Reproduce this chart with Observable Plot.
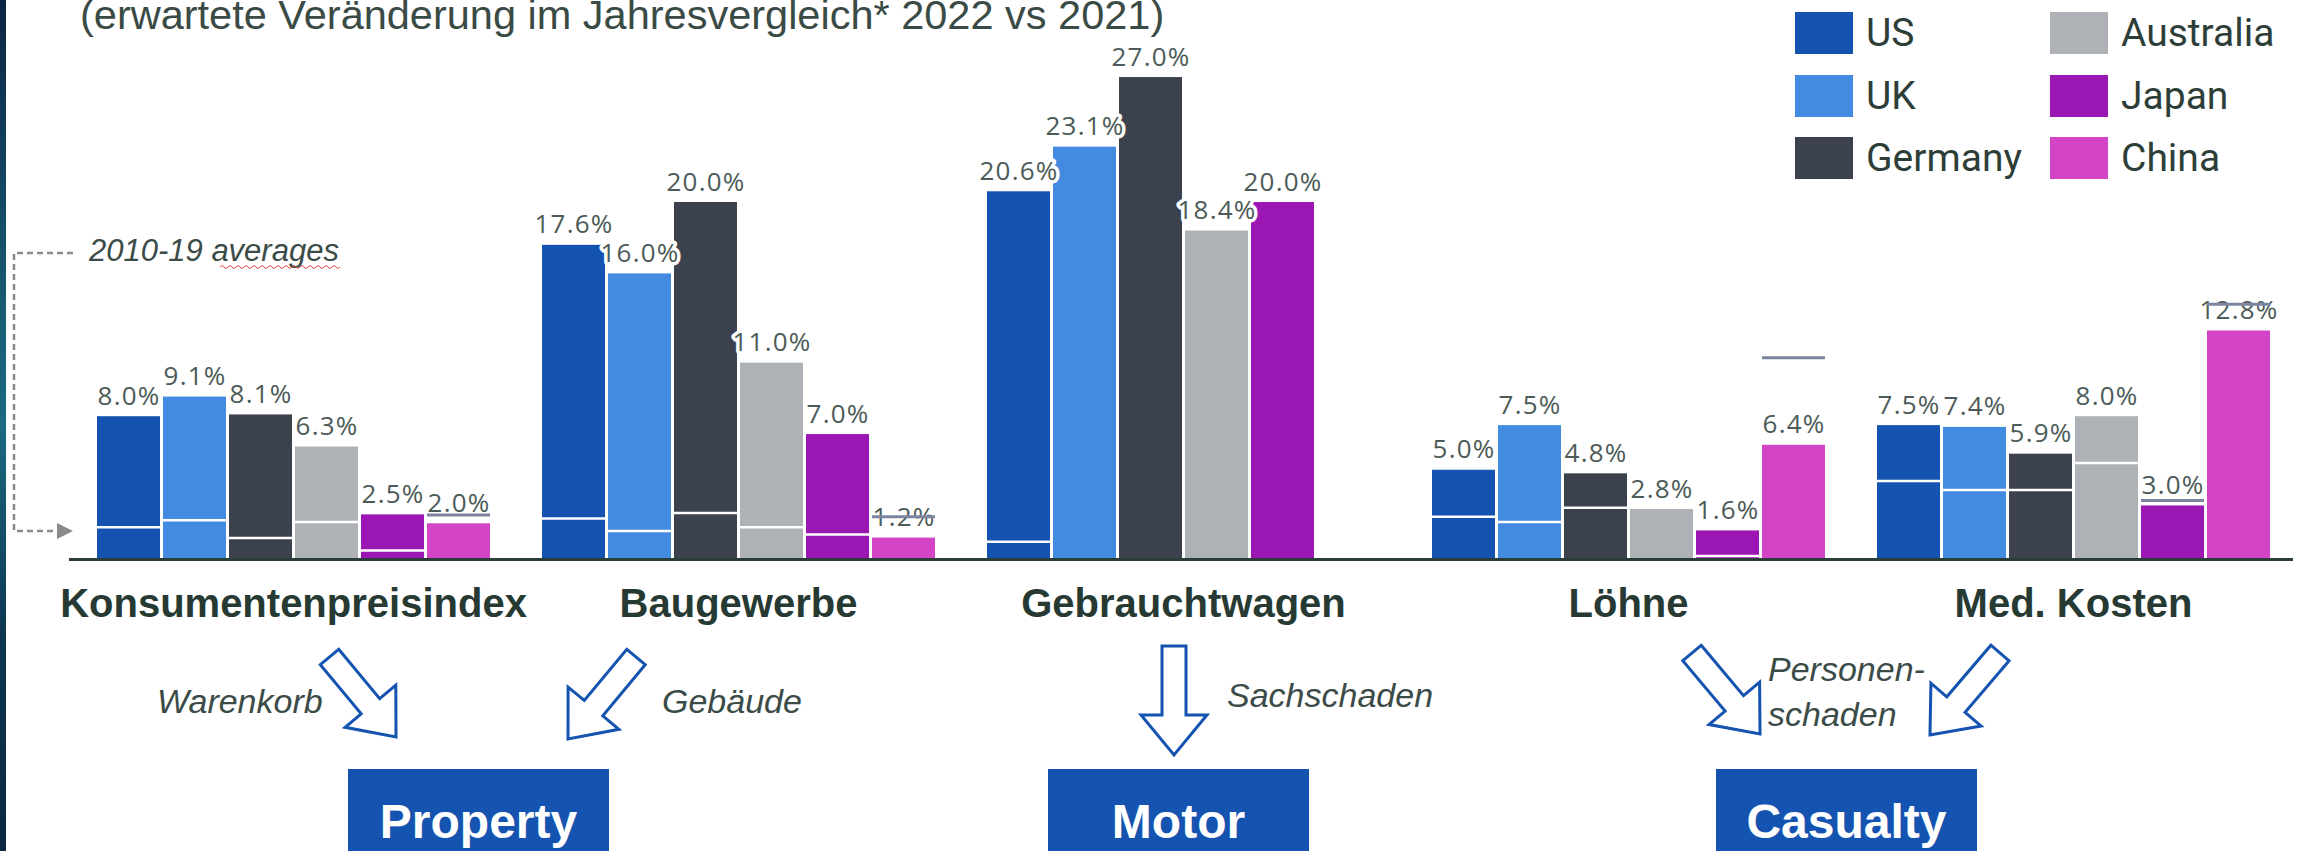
<!DOCTYPE html>
<html>
<head>
<meta charset="utf-8">
<script src="https://cdn.jsdelivr.net/npm/d3@7"></script>
<script src="https://cdn.jsdelivr.net/npm/@observablehq/plot@0.6"></script>
<style>
  html, body { margin: 0; padding: 0; background: #ffffff; }
  #page { position: relative; width: 2311px; height: 851px; overflow: hidden; background: #ffffff; }
  #strip { position: absolute; left: 0; top: 0; width: 6px; height: 851px;
           background: linear-gradient(#0c2443 0%, #175a72 35%, #1a6a80 50%, #0d3550 75%, #0a2843 100%); }
  #chart { position: absolute; left: 0; top: 0; }
  #overlay { position: absolute; left: 0; top: 0; pointer-events: none; }
  #legend { position: absolute; left: 1795px; top: 2px; display: grid;
            grid-template-columns: 255px auto; grid-template-rows: repeat(3, 62.5px);
            grid-auto-flow: column; font-family: Roboto, sans-serif; font-size: 39px; color: #2d3e38; }
  #legend .item { display: flex; align-items: center; }
  #legend .sw { width: 58px; height: 42px; margin-right: 13px; flex: none; }
  .box { position: absolute; top: 769px; height: 100px; width: 261px; background: #1553b1;
         color: #ffffff; font-family: "Liberation Sans", Arial, sans-serif; font-weight: bold;
         font-size: 48px; text-align: center; line-height: 1; }
  .box span { position: absolute; left: 0; right: 0; top: 29px; }
</style>
</head>
<body>
<div id="page">
  <div id="strip"></div>
</div>
<script>
// ---------- data ----------
const categories = ["Konsumentenpreisindex", "Baugewerbe", "Gebrauchtwagen", "Löhne", "Med. Kosten"];
const countries = ["US", "UK", "Germany", "Australia", "Japan", "China"];
const countryColors = ["#1553b1", "#438be0", "#3c414e", "#aeb2b6", "#9b17b4", "#d344c6"];

// expected change 2022 vs 2021 (%), per country, in category order
const usValues = [8.0, 17.6, 20.6, 5.0, 7.5];
const ukValues = [9.1, 16.0, 23.1, 7.5, 7.4];
const germanyValues = [8.1, 20.0, 27.0, 4.8, 5.9];
const australiaValues = [6.3, 11.0, 18.4, 2.8, 8.0];
const japanValues = [2.5, 7.0, 20.0, 1.6, 3.0];
const chinaValues = [2.0, 1.2, null, 6.4, 12.8];

// 2010-19 averages (%), per country, in category order
const usAverages = [1.8, 2.3, 1.0, 2.4, 4.4];
const ukAverages = [2.2, 1.6, null, 2.1, 3.9];
const germanyAverages = [1.2, 2.6, null, 2.9, 3.9];
const australiaAverages = [2.1, 1.8, null, null, 5.4];
const japanAverages = [0.5, 1.4, null, 0.2, 3.3];
const chinaAverages = [2.5, 2.4, null, 11.3, 14.3];

const titleText = "(erwartete Veränderung im Jahresvergleich* 2022 vs 2021)";
const averagesNote = "2010-19 averages";
const flowLabels = ["Warenkorb", "Gebäude", "Sachschaden", "Personen-", "schaden"];
const lineLabels = ["Property", "Motor", "Casualty"];

// ---------- table ----------
const valueSeries = [usValues, ukValues, germanyValues, australiaValues, japanValues, chinaValues];
const avgSeries = [usAverages, ukAverages, germanyAverages, australiaAverages, japanAverages, chinaAverages];
const rows = [];
countries.forEach((c, i) => {
  categories.forEach((cat, j) => {
    if (valueSeries[i][j] != null) rows.push({cat, country: c, value: valueSeries[i][j], avg: avgSeries[i][j]});
  });
});
const fmt = d => d.value.toFixed(1) + "%";

// ---------- chart ----------
const chart = Plot.plot({
  width: 2311,
  height: 640,
  marginTop: 23.5,
  marginBottom: 81,
  marginLeft: 94,
  marginRight: 39,
  fx: {domain: categories, paddingInner: 0.1111, paddingOuter: 0, axis: null, label: null},
  x: {domain: countries, paddingInner: 3 / 66, paddingOuter: 0.5 / 66, axis: null, label: null},
  y: {domain: [0, 30], axis: null, label: null},
  color: {domain: countries, range: countryColors},
  style: {background: "transparent", overflow: "visible"},
  marks: [
    Plot.barY(rows, {fx: "cat", x: "country", y: "value", fill: "country"}),
    Plot.tickY(rows.filter(d => d.avg != null && d.avg < d.value),
      {fx: "cat", x: "country", y: "avg", stroke: "#ffffff", strokeWidth: 2.5}),
    Plot.text(rows, {fx: "cat", x: "country", y: "value", text: fmt, lineAnchor: "bottom", dy: -12,
      fontSize: 26, fontFamily: "Open Sans", fill: "#4c5b57",
      stroke: "#ffffff", strokeWidth: 7, strokeLinejoin: "round", paintOrder: "stroke"}),
    Plot.tickY(rows.filter(d => d.avg != null && d.avg > d.value),
      {fx: "cat", x: "country", y: "avg", stroke: "#7c84a0", strokeWidth: 3}),
    Plot.text(categories, {fx: d => d, text: d => d, frameAnchor: "bottom", lineAnchor: "top", dy: 29,
      fontSize: 40, fontWeight: "bold", fontFamily: "Liberation Sans, Arial, sans-serif", fill: "#263a33"})
  ]
});
chart.id = "chart";
// slightly spaced digits for the value labels
const textGroups = chart.querySelectorAll('g[aria-label="text"]');
if (textGroups.length) textGroups[0].style.letterSpacing = "1.2px";
const page = document.getElementById("page");
page.appendChild(chart);

// ---------- legend ----------
const legend = document.createElement("div");
legend.id = "legend";
countries.forEach((c, i) => {
  const item = document.createElement("div");
  item.className = "item";
  const sw = document.createElement("div");
  sw.className = "sw";
  sw.style.background = countryColors[i];
  const lab = document.createElement("span");
  lab.textContent = c;
  item.appendChild(sw);
  item.appendChild(lab);
  legend.appendChild(item);
});
page.appendChild(legend);

// ---------- overlay: title, annotations, flow arrows ----------
const NS = "http://www.w3.org/2000/svg";
const ov = document.createElementNS(NS, "svg");
ov.id = "overlay";
ov.setAttribute("width", 2311);
ov.setAttribute("height", 851);
function el(tag, attrs, text) {
  const e = document.createElementNS(NS, tag);
  for (const k in attrs) e.setAttribute(k, attrs[k]);
  if (text != null) e.textContent = text;
  ov.appendChild(e);
  return e;
}
// title (cut off at the top, as in the source slide)
el("text", {x: 80, y: 29, "font-family": "Liberation Sans, Arial, sans-serif", "font-size": 41.5, fill: "#3a4a45"}, titleText);

// axis baseline
el("line", {x1: 69, x2: 2293, y1: 559.5, y2: 559.5, stroke: "#2b3d37", "stroke-width": 3});

// averages note + dashed connector
el("text", {x: 89, y: 261, "font-family": "Liberation Sans, Arial, sans-serif", "font-style": "italic",
  "font-size": 31, fill: "#3b4b47"}, averagesNote);
el("path", {d: "M220,267 q2,-3 4,0 t4,0 t4,0 t4,0 t4,0 t4,0 t4,0 t4,0 t4,0 t4,0 t4,0 t4,0 t4,0 t4,0 t4,0 t4,0 t4,0 t4,0 t4,0 t4,0 t4,0 t4,0 t4,0 t4,0 t4,0 t4,0 t4,0 t4,0 t4,0 t4,0",
  fill: "none", stroke: "#e04848", "stroke-width": 1});
el("path", {d: "M73,253 H14 V531 H58", fill: "none", stroke: "#8a8a8a", "stroke-width": 2.5, "stroke-dasharray": "6 4"});
el("path", {d: "M57,523 L73,531 L57,539 Z", fill: "#8a8a8a"});

// block arrows
function blockArrow(tail, tip, hw, headHW, headLen) {
  const dx = tip[0] - tail[0], dy = tip[1] - tail[1], L = Math.hypot(dx, dy);
  const ux = dx / L, uy = dy / L, px = -uy, py = ux;
  const P = (a, b) => [tail[0] + ux * a + px * b, tail[1] + uy * a + py * b];
  const pts = [P(0, -hw), P(L - headLen, -hw), P(L - headLen, -headHW), P(L, 0),
               P(L - headLen, headHW), P(L - headLen, hw), P(0, hw)];
  return "M" + pts.map(p => p[0].toFixed(1) + "," + p[1].toFixed(1)).join("L") + "Z";
}
const arrowStyle = {fill: "#ffffff", stroke: "#1553b1", "stroke-width": 3, "stroke-linejoin": "miter"};
[
  [[329.5, 657], [396, 737]],
  [[636, 657], [568, 739]],
  [[1174, 646], [1174, 755]],
  [[1692, 653], [1760, 734]],
  [[2000, 653], [1930, 735]]
].forEach(([a, b]) => el("path", Object.assign({d: blockArrow(a, b, 12, 33, 40)}, arrowStyle)));

const italic = {"font-family": "Liberation Sans, Arial, sans-serif", "font-style": "italic", "font-size": 34, fill: "#3b4b47"};
el("text", Object.assign({x: 157, y: 713}, italic), flowLabels[0]);
el("text", Object.assign({x: 662, y: 713}, italic), flowLabels[1]);
el("text", Object.assign({x: 1227, y: 707}, italic), flowLabels[2]);
el("text", Object.assign({x: 1768, y: 681}, italic), flowLabels[3]);
el("text", Object.assign({x: 1768, y: 726}, italic), flowLabels[4]);
page.appendChild(ov);

// line-of-business boxes
[348, 1048, 1716].forEach((left, i) => {
  const b = document.createElement("div");
  b.className = "box";
  b.style.left = left + "px";
  const s = document.createElement("span");
  s.textContent = lineLabels[i];
  b.appendChild(s);
  page.appendChild(b);
});
</script>
</body>
</html>
